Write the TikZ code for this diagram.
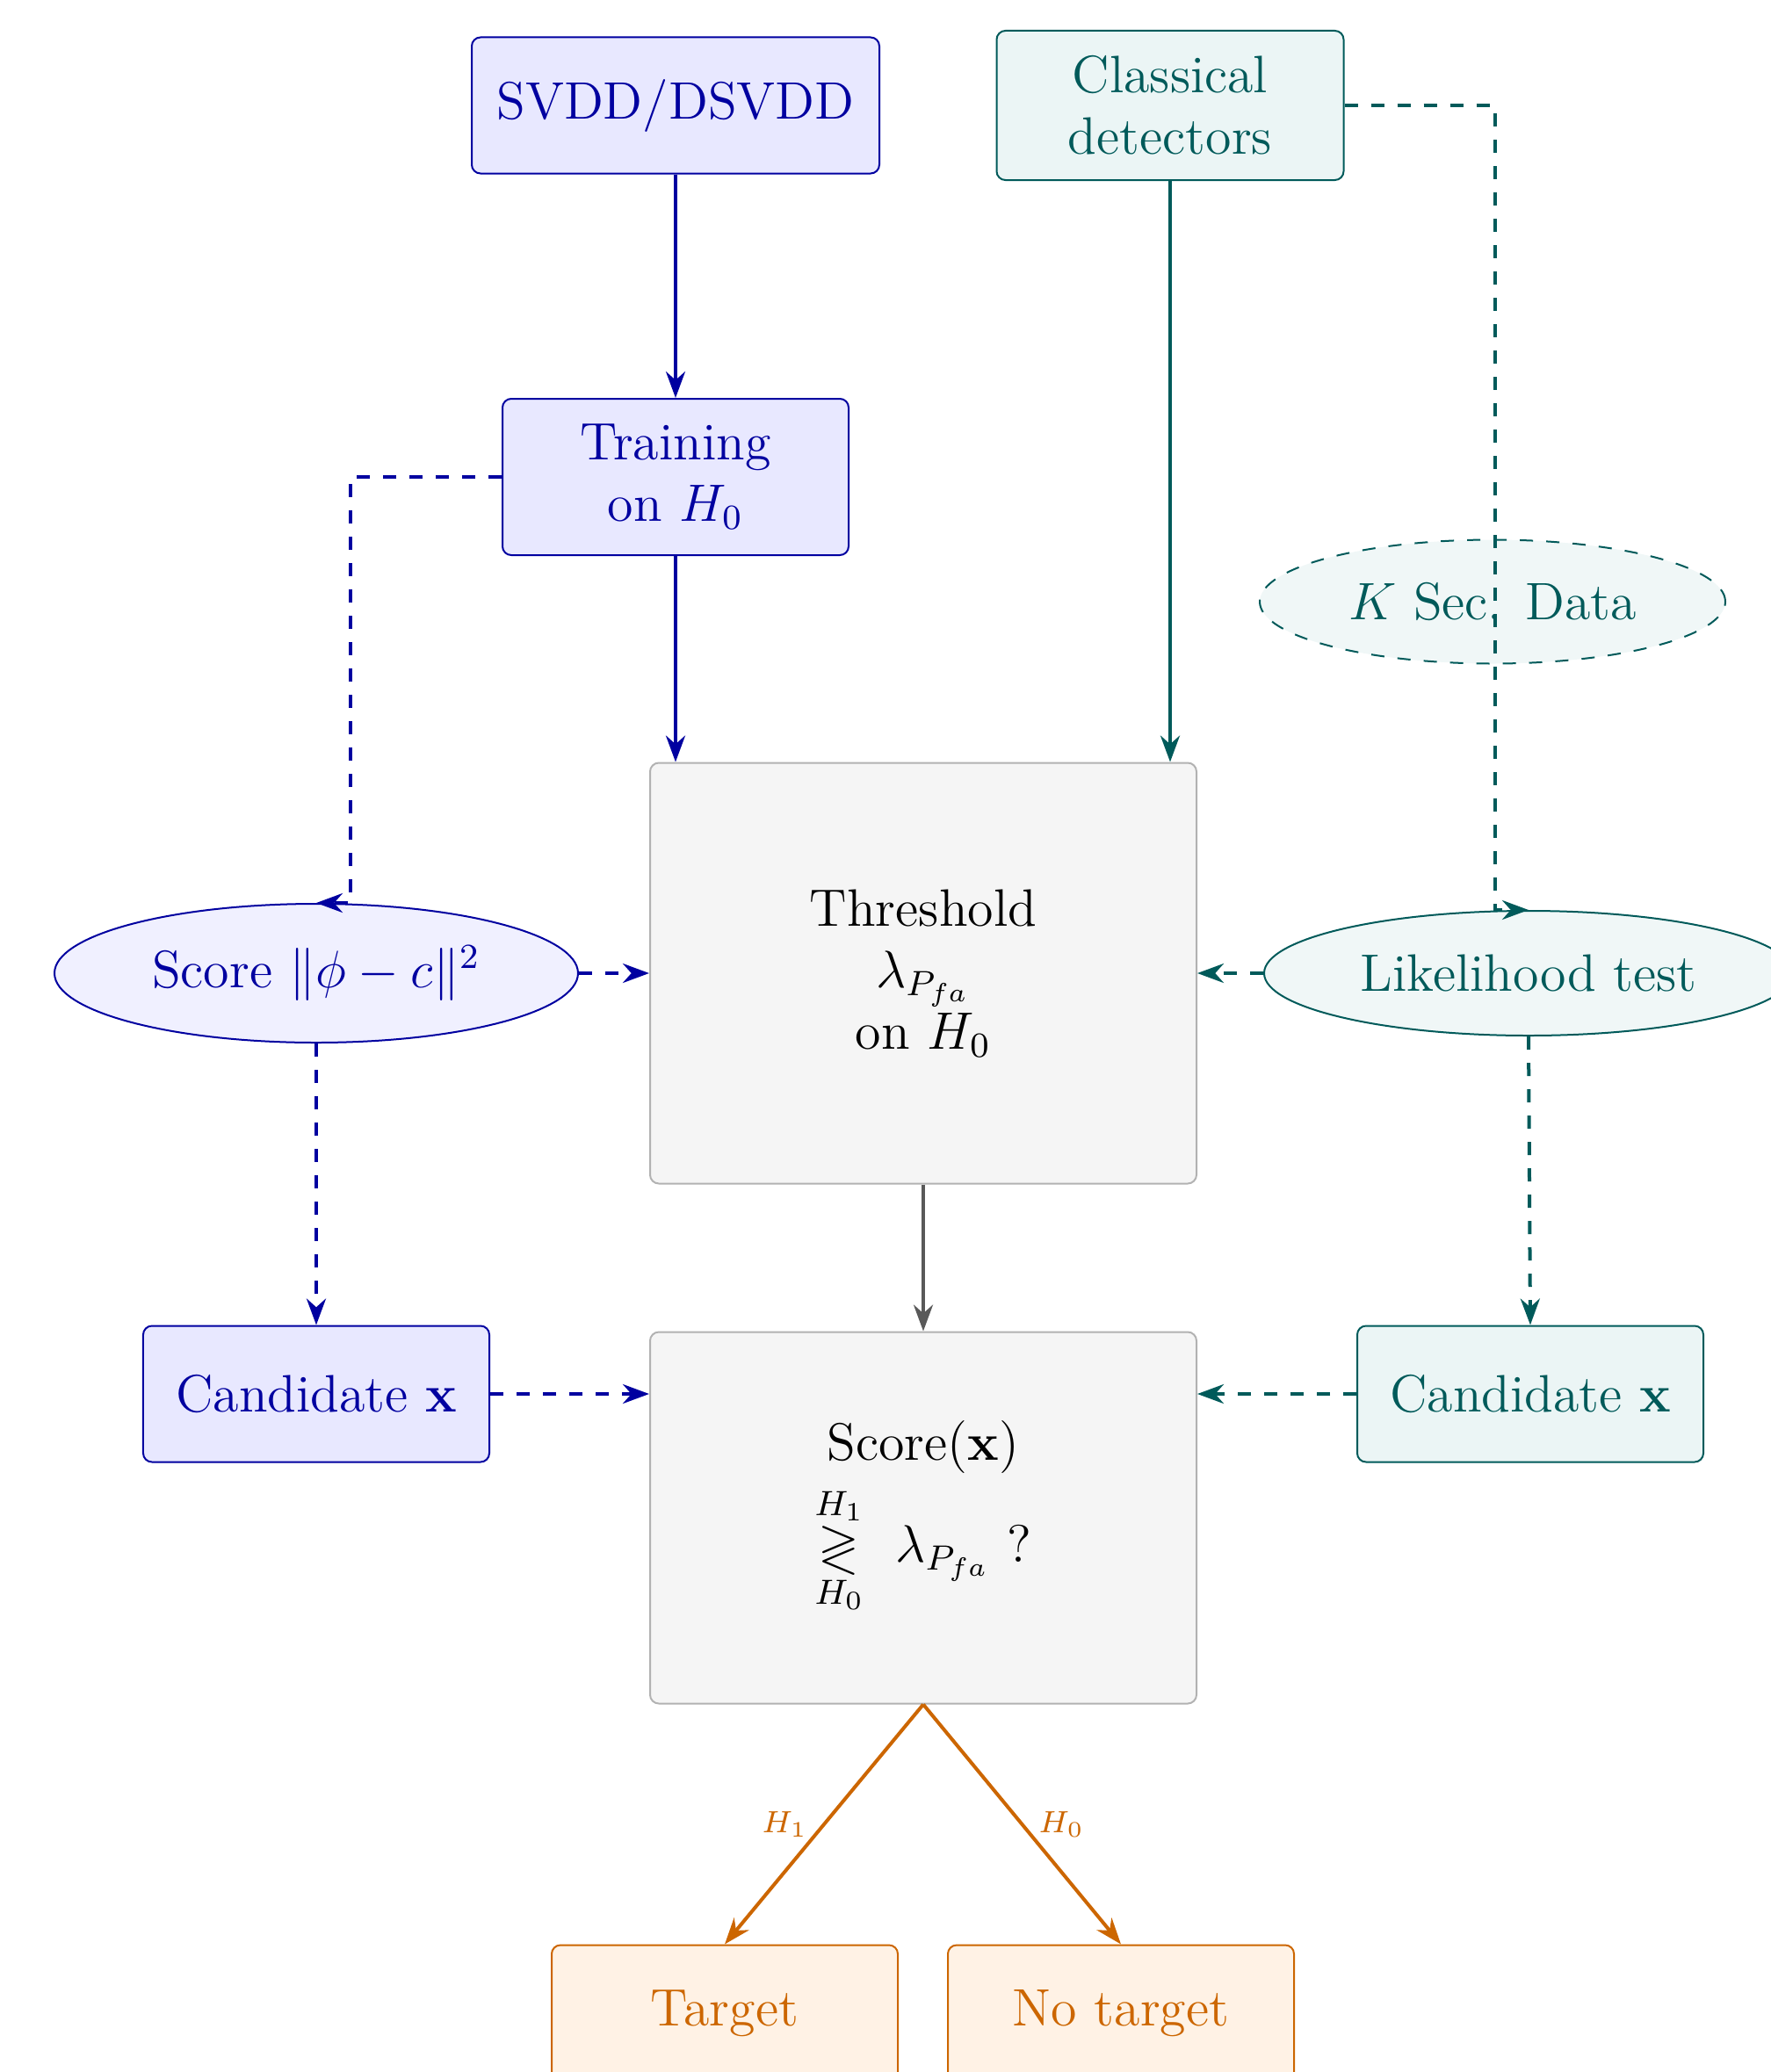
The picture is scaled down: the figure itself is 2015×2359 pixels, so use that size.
\documentclass[tikz,border=0pt]{standalone}
\usepackage{amsmath,amssymb}
\usetikzlibrary{arrows.meta,shapes.geometric}
\definecolor{dblue}{RGB}{0,0,160}
\definecolor{dteal}{RGB}{0,90,90}
\definecolor{dorange}{RGB}{204,102,0}
\begin{document}
\begin{tikzpicture}[x=0.2pt,y=-0.2pt,
  >={Stealth[length=6pt,width=4.4pt]},
  every node/.style={font=\large, align=center, inner sep=0pt},
  bluebox/.style={draw=dblue, fill=blue!9, text=dblue, rounded corners=2pt, line width=0.4pt},
  bluell/.style={ellipse, draw=dblue, fill=blue!6, text=dblue, line width=0.4pt},
  tealbox/.style={draw=dteal, fill=teal!8, text=dteal, rounded corners=2pt, line width=0.4pt},
  tealell/.style={ellipse, draw=dteal, fill=teal!6, text=dteal, line width=0.4pt},
  graybox/.style={draw=gray!60, fill=gray!8, text=black, rounded corners=2pt, line width=0.4pt},
  orbox/.style={draw=dorange, fill=orange!10, text=dorange, rounded corners=2pt, line width=0.4pt},
  bluearr/.style={->, draw=dblue, line width=0.8pt},
  tealarr/.style={->, draw=dteal, line width=0.8pt},
  grayarr/.style={->, draw=black!65, line width=0.8pt},
  orarr/.style={->, draw=dorange, line width=0.8pt},
  edgelab/.style={font=\fontsize{7}{8}\selectfont, text=dorange, inner sep=0pt}
]
\useasboundingbox (0,0) rectangle (2015,2359);

% nodes
\node[bluebox, minimum width=92.8pt, minimum height=31pt] (svdd) at (769,120) {SVDD/DSVDD};
\node[tealbox, minimum width=79pt, minimum height=34pt] (classical) at (1332,120) {Classical\\detectors};
\node[bluebox, minimum width=78.8pt, minimum height=35.6pt] (training) at (769,543) {Training\\on $H_0$};
\node[tealell, dashed, minimum width=106pt, minimum height=28.2pt] (ksec) at (1699,685) {$K$ Sec. Data};
\node[graybox, minimum width=124.4pt, minimum height=95.8pt] (thresh) at (1051,1108) {Threshold\\$\lambda_{P_{fa}}$\\on $H_0$};
\node[bluell, minimum width=119.2pt, minimum height=31.6pt] (score) at (360,1108) {Score $\|\phi - c\|^2$};
\node[tealell, minimum width=120.4pt, minimum height=28.4pt] (lik) at (1740,1108) {Likelihood test};
\node[bluebox, minimum width=78.8pt, minimum height=31pt] (candl) at (360,1587) {Candidate $\mathbf{x}$};
\node[tealbox, minimum width=78.8pt, minimum height=31pt] (candr) at (1742,1587) {Candidate $\mathbf{x}$};
\node[graybox, minimum width=124.4pt, minimum height=84.6pt] (sbox) at (1051,1728) {Score($\mathbf{x}$)\\[2pt]$\underset{H_0}{\overset{H_1}{\gtrless}}\ \lambda_{P_{fa}}$ ?};
\node[orbox, minimum width=78.8pt, minimum height=31pt] (target) at (825,2292) {Target};
\node[orbox, minimum width=78.8pt, minimum height=31pt] (notarget) at (1276,2292) {No target};

% connectors
\draw[bluearr] (svdd.south) -- (training.north);
\draw[bluearr] (training.south) -- (training.south |- thresh.north);
\draw[tealarr] (classical.south) -- (classical.south |- thresh.north);
\draw[tealarr, dashed] (classical.east) -- ++(171,0) |- (lik.north);
\draw[bluearr, dashed] (training.west) -- ++(-172,0) |- (score.north);
\draw[bluearr, dashed] (score.east) -- (thresh.west);
\draw[tealarr, dashed] (lik.west) -- (thresh.east);
\draw[bluearr, dashed] (score.south) -- (candl.north);
\draw[tealarr, dashed] (lik.south) -- (candr.north);
\draw[grayarr] (thresh.south) -- (sbox.north);
\draw[bluearr, dashed] (candl.east) -- (candl.east -| sbox.west);
\draw[tealarr, dashed] (candr.west) -- (candr.west -| sbox.east);
\draw[orarr] (sbox.south) -- node[edgelab, midway, left=3.3pt] {$H_1$} (target.north);
\draw[orarr] (sbox.south) -- node[edgelab, midway, right=3.3pt] {$H_0$} (notarget.north);
\end{tikzpicture}
\end{document}
